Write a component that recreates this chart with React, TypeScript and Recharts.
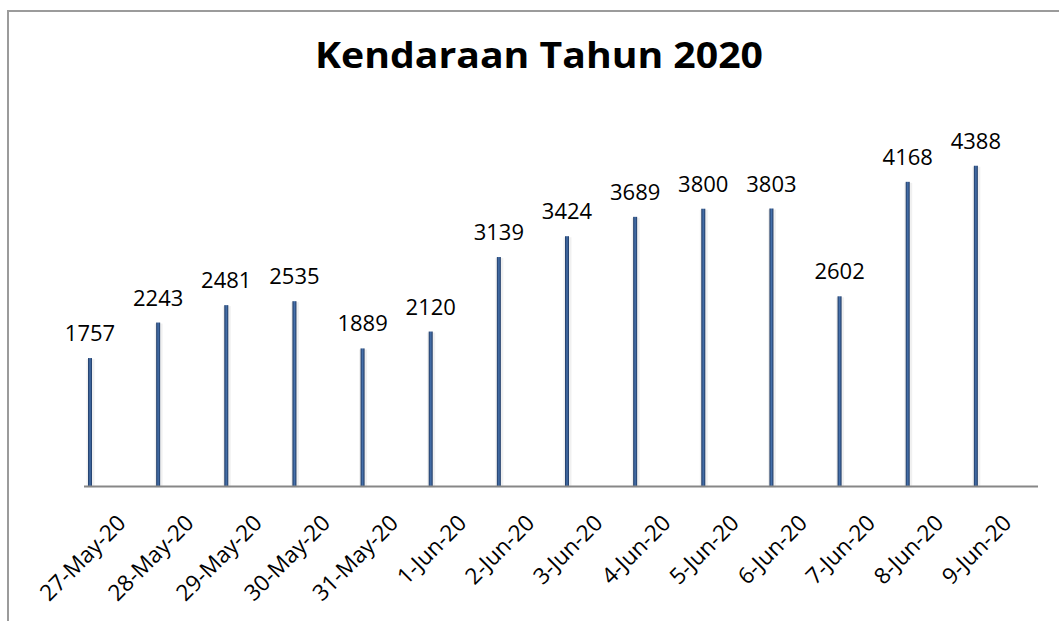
import { BarChart, Bar, XAxis, YAxis, LabelList } from "recharts";

const dates = [
  "27-May-20",
  "28-May-20",
  "29-May-20",
  "30-May-20",
  "31-May-20",
  "1-Jun-20",
  "2-Jun-20",
  "3-Jun-20",
  "4-Jun-20",
  "5-Jun-20",
  "6-Jun-20",
  "7-Jun-20",
  "8-Jun-20",
  "9-Jun-20",
];

const counts = [
  1757, 2243, 2481, 2535, 1889, 2120, 3139, 3424, 3689, 3800, 3803, 2602, 4168,
  4388,
];

const title = "Kendaraan Tahun 2020";

const data = dates.map((date, i) => ({ date, count: counts[i] }));

const FONT = "'Open Sans', 'Noto Sans', sans-serif";

const BarShape = (props: any) => {
  const { x, y, width, height } = props;
  if (!height) return null;
  return (
    <g>
      <rect x={x - 1.5} y={y + 1} width={width + 4} height={height} fill="#000" opacity={0.06} />
      <rect x={x} y={y} width={width} height={height} fill="url(#barFill)" />
    </g>
  );
};

const AngledTick = (props: any) => {
  const { x, y, payload } = props;
  return (
    <g transform={`translate(${x},${y})`}>
      <text
        x={9}
        y={38}
        transform="rotate(-45 9 38)"
        textAnchor="end"
        fontFamily={FONT}
        fontSize={22.5}
        fill="#000"
      >
        {payload.value}
      </text>
    </g>
  );
};

export default function App() {
  return (
    <div
      style={{
        position: "fixed",
        left: 0,
        top: 0,
        width: 1059,
        height: 621,
        overflow: "hidden",
        background: "#fff",
      }}
    >
      <div
        style={{
          position: "absolute",
          left: 7,
          top: 10,
          width: 1100,
          height: 700,
          border: "2px solid #9b9b9b",
        }}
      />
      <svg
        width={1059}
        height={100}
        style={{ position: "absolute", left: 0, top: 0 }}
      >
        <text
          x={539}
          y={68}
          textAnchor="middle"
          fontFamily={FONT}
          fontWeight={700}
          fontSize={36}
          textLength={448}
          lengthAdjust="spacingAndGlyphs"
          fill="#000"
        >
          {title}
        </text>
      </svg>
      <div style={{ position: "absolute", left: 0, top: 0 }}>
        <BarChart
          width={1059}
          height={621}
          data={data}
          margin={{ top: 121, right: 21, left: 84, bottom: 14.5 }}
          barGap={52}
        >
          <defs>
            <linearGradient id="barFill" x1="0" y1="0" x2="1" y2="0">
              <stop offset="0%" stopColor="#1c365f" />
              <stop offset="50%" stopColor="#4772ad" />
              <stop offset="100%" stopColor="#1c365f" />
            </linearGradient>
          </defs>
          <XAxis
            dataKey="date"
            interval={0}
            height={120}
            tickLine={false}
            tickSize={0}
            tickMargin={0}
            axisLine={{ stroke: "#878787", strokeWidth: 2 }}
            tick={<AngledTick />}
          />
          <YAxis hide width={0} domain={[0, 5000]} />
          <Bar
            dataKey="count"
            barSize={4}
            shape={<BarShape />}
            isAnimationActive={false}
          >
            <LabelList
              dataKey="count"
              position="top"
              offset={17}
              fontFamily={FONT}
              fontSize={22}
              fill="#000"
            />
          </Bar>
          <Bar dataKey="spacer" barSize={4} isAnimationActive={false} />
        </BarChart>
      </div>
    </div>
  );
}
